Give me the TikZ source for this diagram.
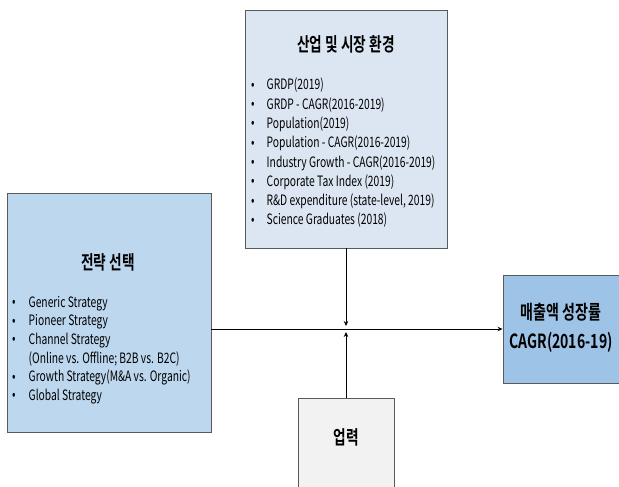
\documentclass[tikz,border=0pt]{standalone}
\usepackage{fontspec}
\newfontfamily\kr[FakeStretch=0.72,BoldFont={Noto Sans CJK KR Bold},BoldFeatures={FakeStretch=0.72}]{Noto Sans CJK KR}
\usetikzlibrary{arrows.meta}
\definecolor{topfill}{HTML}{DCE6F2}
\definecolor{leftfill}{HTML}{BDD7EE}
\definecolor{rightfill}{HTML}{9DC3E6}
\definecolor{botfill}{HTML}{F2F2F2}
\definecolor{edge}{HTML}{595959}
\tikzset{
  box/.style={draw=edge, line width=0.9pt, inner sep=0pt},
  title/.style={font=\kr\bfseries\fontsize{19}{22}\selectfont, text=black, align=center},
  items/.style={font=\kr\fontsize{14.3}{19.3}\selectfont, align=left, anchor=north west, inner sep=0pt, text=black},
  conn/.style={line width=1pt, black},
  tip/.style={-{Stealth[length=5pt,width=4.5pt]}}
}
\newcommand{\bul}{\makebox[15.5pt][l]{\raisebox{0.5pt}{\textbullet}}}
\newcommand{\bulL}{\makebox[16.5pt][l]{\raisebox{0.5pt}{\textbullet}}}
\begin{document}
\begin{tikzpicture}[x=1pt,y=-1pt]
\useasboundingbox (0,0) rectangle (619,487);
\clip (0,0) rectangle (619,487);
\fill[white] (0,0) rectangle (619,487);
% boxes
\node[box, fill=topfill, minimum width=202pt, minimum height=238pt] (top) at (346,129) {};
\node[box, fill=leftfill, minimum width=204pt, minimum height=239pt] (left) at (109,312.5) {};
\node[box, fill=rightfill, minimum width=137pt, minimum height=108pt] (right) at (571.5,329) {};
\node[box, fill=botfill, minimum width=96pt, minimum height=102pt] (bot) at (346,449) {};
% texts
\node[title] (toptitle) at (346,44) {산업 및 시장 환경};
\node[items] (toplist) at (251,78) {\bul GRDP(2019)\\
\bul GRDP - CAGR(2016-2019)\\
\bul Population(2019)\\
\bul Population - CAGR(2016-2019)\\
\bul Industry Growth - CAGR(2016-2019)\\
\bul Corporate Tax Index (2019)\\
\bul R\&D expenditure (state-level, 2019)\\
\bul Science Graduates (2018)};
\node[title] (lefttitle) at (108,262) {전략 선택};
\node[items, font=\kr\fontsize{14.3}{18.6}\selectfont] (leftlist) at (12,296) {\bulL Generic Strategy\\
\bulL Pioneer Strategy\\
\bulL Channel Strategy\\
\hspace*{16.5pt}(Online vs. Offline; B2B vs. B2C)\\
\bulL Growth Strategy(M\&A vs. Organic)\\
\bulL Global Strategy};
\node[title, font=\kr\bfseries\fontsize{19.5}{29}\selectfont] (righttitle) at (561,328) {매출액 성장률\\CAGR(2016-19)};
\node[title] (bottitle) at (346,437) {업력};
% connectors
\coordinate (jt) at (346,326);
\coordinate (jb) at (346,332);
\draw[conn, tip] (left.east |- right.west) -- (right.west);
\draw[conn, tip] (top.south) -- (jt);
\draw[conn, tip] (bot.north) -- (jb);
\end{tikzpicture}
\end{document}
